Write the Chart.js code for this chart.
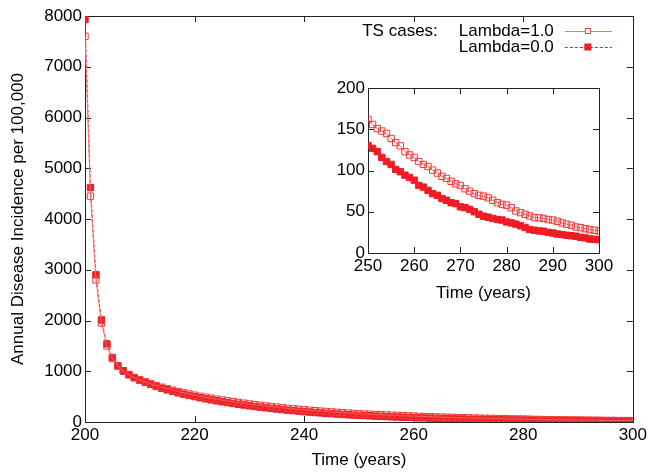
<!DOCTYPE html>
<html>
<head>
<meta charset="utf-8">
<script src="https://cdn.jsdelivr.net/npm/chart.js@4.4.1/dist/chart.umd.min.js"></script>
<style>
  html, body { margin: 0; padding: 0; background: #fff; }
  #wrap { position: relative; width: 650px; height: 473px; }
  #main { position: absolute; left: 0; top: 0; }
  #inset { position: absolute; left: 320px; top: 75px; }
</style>
</head>
<body>
<div id="wrap">
  <canvas id="main" width="650" height="473"></canvas>
  <canvas id="inset" width="299" height="235"></canvas>
</div>
<script>
// ---- data (one value per year, 200..300) ----
const FIRST_YEAR = 200;
const INSET_FROM = 250;

const LAMBDA_1 = [
  7600, 4450, 2800, 1950, 1500, 1250, 1100, 1000, 930, 872,
  830, 790, 752, 717, 685, 655, 627, 600, 575, 551,
  528, 507, 487, 468, 450, 433, 416, 400, 385, 370,
  356, 342, 329, 316, 304, 292, 281, 270, 260, 250,
  241, 232, 223, 215, 207, 199, 191, 183, 176, 169,
  162, 156, 151, 148, 145, 139, 134, 130, 123, 119,
  116, 111, 107.5, 105, 100.6, 97, 93, 90.5, 87, 84,
  82, 78, 75, 72, 70, 69, 67, 64, 61, 59,
  58, 55, 51, 49, 47, 45, 43, 42.6, 42, 40.6,
  40, 38.5, 36.5, 35, 33.7, 31.6, 30.8, 29.6, 28.4, 27.6, 26.8
];

const LAMBDA_0 = [
  7930, 4620, 2900, 2010, 1540, 1270, 1110, 1010, 935, 875,
  825, 780, 738, 700, 665, 633, 603, 575, 549, 524,
  500, 478, 457, 437, 418, 400, 383, 366, 350, 335,
  320, 306, 293, 280, 268, 256, 245, 234, 224, 214,
  205, 196, 187, 179, 171, 164, 157, 150, 143, 136,
  130.6, 127, 123, 116, 111, 107.5, 101.4, 98.6, 94.5, 91.7,
  88.4, 82, 80, 76, 72, 70, 66, 64, 61, 60,
  56, 55, 53, 50, 47, 44.6, 43.4, 42, 40.6, 40,
  37.7, 36.5, 35, 33, 31, 28.4, 27.6, 26.8, 26.4, 25,
  24.3, 23, 22.3, 21.5, 21, 20.3, 19, 18.3, 17, 16.6, 16.2
];

const SERIES_LABELS = ['Lambda=1.0', 'Lambda=0.0'];
const LEGEND_TITLE = 'TS cases:';

const MAIN_X_TICKS = [200, 220, 240, 260, 280, 300];
const MAIN_Y_TICKS = [0, 1000, 2000, 3000, 4000, 5000, 6000, 7000, 8000];
const INSET_X_TICKS = [250, 260, 270, 280, 290, 300];
const INSET_Y_TICKS = [0, 50, 100, 150, 200];

// ---- styling ----
const FONT = { family: "'Liberation Sans', Arial, Helvetica, sans-serif", size: 17 };
const FONT_CSS = `17px 'Liberation Sans', Arial, Helvetica, sans-serif`;
const RED = '#ee1c25';
const AXIS = '#222';
Chart.defaults.font.family = FONT.family;
Chart.defaults.font.size = FONT.size;
Chart.defaults.color = '#000';

function points(values, from) {
  const out = [];
  values.forEach((v, i) => {
    const x = FIRST_YEAR + i;
    if (x >= from) out.push({ x, y: v });
  });
  return out;
}

function datasets(from) {
  return [
    { label: SERIES_LABELS[0], data: points(LAMBDA_1, from),
      borderColor: '#f27272', borderWidth: 1,
      pointStyle: 'rect', pointRadius: 4.5, pointBorderWidth: 1,
      pointBorderColor: '#ef3a3a', pointBackgroundColor: 'rgba(0,0,0,0)', open: true },
    { label: SERIES_LABELS[1], data: points(LAMBDA_0, from),
      borderColor: RED, borderWidth: 1, borderDash: [3, 2],
      pointStyle: 'rect', pointRadius: 4.5, pointBorderWidth: 1,
      pointBorderColor: RED, pointBackgroundColor: RED, open: false },
  ];
}

// gnuplot-like frame with inward ticks on all four sides
const framePlugin = {
  id: 'frame',
  beforeDatasetsDraw(chart) {
    const { ctx, chartArea: a, scales } = chart;
    const t = 6;
    ctx.save();
    ctx.strokeStyle = AXIS;
    ctx.lineWidth = 1;
    ctx.beginPath();
    for (const tk of scales.x.ticks) {
      const px = Math.round(scales.x.getPixelForValue(tk.value)) + 0.5;
      ctx.moveTo(px, a.bottom); ctx.lineTo(px, a.bottom - t);
      ctx.moveTo(px, a.top); ctx.lineTo(px, a.top + t);
    }
    for (const tk of scales.y.ticks) {
      const py = Math.round(scales.y.getPixelForValue(tk.value)) + 0.5;
      ctx.moveTo(a.left, py); ctx.lineTo(a.left + t, py);
      ctx.moveTo(a.right, py); ctx.lineTo(a.right - t, py);
    }
    ctx.stroke();
    ctx.strokeRect(Math.round(a.left) + 0.5, Math.round(a.top) + 0.5,
      Math.round(a.right - a.left), Math.round(a.bottom - a.top));
    ctx.restore();
  }
};

const legendPlugin = {
  id: 'tsLegend',
  afterDraw(chart) {
    const { ctx, chartArea: a } = chart;
    ctx.save();
    ctx.font = FONT_CSS;
    ctx.fillStyle = '#000';
    ctx.textBaseline = 'middle';
    ctx.textAlign = 'right';
    ctx.fillText(LEGEND_TITLE, a.right - 195, a.top + 15);
    chart.data.datasets.forEach((ds, i) => {
      const y = a.top + 15 + i * 16;
      ctx.fillStyle = '#000';
      ctx.fillText(ds.label, a.right - 79, y);
      ctx.strokeStyle = ds.borderColor;
      ctx.lineWidth = ds.borderWidth;
      ctx.setLineDash(ds.borderDash || []);
      ctx.beginPath();
      ctx.moveTo(a.right - 68, y + 0.5); ctx.lineTo(a.right - 21, y + 0.5);
      ctx.stroke();
      ctx.setLineDash([]);
      const s = ds.open ? 3 : 3.5, cx = a.right - 45;
      if (ds.open) {
        ctx.fillStyle = '#fff';
        ctx.fillRect(cx - s, y - s, 2 * s, 2 * s);
        ctx.strokeStyle = ds.pointBorderColor;
        ctx.strokeRect(cx - s + 0.5, y - s + 0.5, 2 * s - 1, 2 * s - 1);
      } else {
        ctx.fillStyle = ds.pointBackgroundColor;
        ctx.fillRect(cx - s, y - s, 2 * s, 2 * s);
      }
    });
    ctx.restore();
  }
};

function axis(min, max, tickList, fixed, extra) {
  return Object.assign({
    type: 'linear', min, max,
    afterBuildTicks: s => { s.ticks = tickList.map(v => ({ value: v })); },
    grid: { display: false, drawTicks: false },
    border: { display: false },
    ticks: { color: '#000', font: FONT, maxRotation: 0, autoSkip: false, callback: v => String(v) },
  }, fixed, extra);
}

// ---- main chart ----
new Chart(document.getElementById('main'), {
  type: 'line',
  data: { datasets: datasets(FIRST_YEAR) },
  options: {
    responsive: false, animation: false, events: [],
    layout: { padding: { left: 0, right: 16, top: 16, bottom: 0 } },
    plugins: { legend: { display: false }, tooltip: { enabled: false } },
    scales: {
      x: axis(200, 300, MAIN_X_TICKS, { afterFit: s => { s.height = 51; } }, {
        title: { display: true, text: 'Time (years)', color: '#000', font: FONT, padding: { top: 0, bottom: 2 } }
      }),
      y: axis(0, 8000, MAIN_Y_TICKS, { afterFit: s => { s.width = 85; } }, {
        title: { display: true, text: 'Annual Disease Incidence per 100,000', color: '#000', font: FONT, padding: { top: 8, bottom: 0 } }
      }),
    },
  },
  plugins: [framePlugin, legendPlugin],
});

// ---- inset chart ----
new Chart(document.getElementById('inset'), {
  type: 'line',
  data: { datasets: datasets(INSET_FROM) },
  options: {
    responsive: false, animation: false, events: [],
    layout: { padding: { left: 0, right: 20, top: 13, bottom: 0 } },
    plugins: { legend: { display: false }, tooltip: { enabled: false } },
    scales: {
      x: axis(250, 300, INSET_X_TICKS, { afterFit: s => { s.height = 57; } }, {
        title: { display: true, text: 'Time (years)', color: '#000', font: FONT, padding: { top: 0, bottom: 6 } }
      }),
      y: axis(0, 200, INSET_Y_TICKS, { afterFit: s => { s.width = 48; } }),
    },
  },
  plugins: [framePlugin],
});
</script>
</body>
</html>
